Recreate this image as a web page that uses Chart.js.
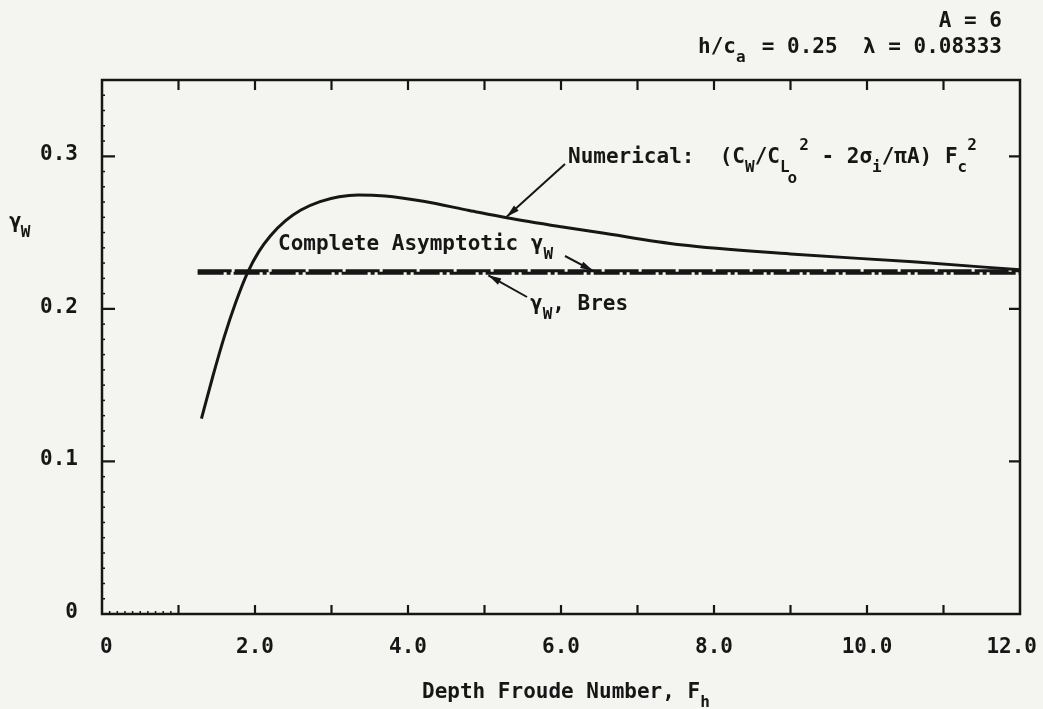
<!DOCTYPE html>
<html>
<head>
<meta charset="utf-8">
<script src="https://cdn.jsdelivr.net/npm/chart.js@4.4.1/dist/chart.umd.min.js"></script>
<style>
  html, body { margin: 0; padding: 0; background: #f4f4f1; }
  canvas { display: block; }
</style>
</head>
<body>
<canvas id="c" width="1043" height="709"></canvas>
<script>
// Depth Froude number samples and the numerically computed wave-drag factor
const FROUDE = [1.3, 1.45, 1.6, 1.75, 1.9, 2.05, 2.2, 2.4, 2.6, 2.85, 3.1, 3.35, 3.7, 4.2, 4.8, 5.29, 6.0, 6.5, 7.56, 9.0, 10.6, 12.0];
const GAMMA_NUMERICAL = [0.128, 0.156, 0.182, 0.2045, 0.2235, 0.2375, 0.2478, 0.2578, 0.2648, 0.2703, 0.2735, 0.2747, 0.2740, 0.2705, 0.2645, 0.2597, 0.2538, 0.2500, 0.2420, 0.2360, 0.2308, 0.2256];

// Asymptotic levels (constant over the plotted range)
const ASYMPTOTE_X = [1.25, 12.0];
const GAMMA_COMPLETE = [0.2249, 0.2249];
const GAMMA_BRES = [0.2233, 0.2233];

// Axis labelling
const X_TICKS = [0, 2, 4, 6, 8, 10, 12];
const X_TICK_LABELS = ['0', '2.0', '4.0', '6.0', '8.0', '10.0', '12.0'];
const Y_TICKS = [0, 0.1, 0.2, 0.3];
const Y_TICK_LABELS = ['0', '0.1', '0.2', '0.3'];

const INK = '#161616';
const FONT = 'bold 21px "DejaVu Sans Mono"';
const SUB = 'bold 16px "DejaVu Sans Mono"';

const toPts = (xs, ys) => xs.map((x, i) => ({ x, y: ys[i] }));

// Draws a run of text pieces; each piece may be a subscript, sub-subscript or superscript
function richText(ctx, x, y, parts) {
  let cx = x;
  for (const p of parts) {
    let dy = 0;
    ctx.font = FONT;
    if (p.k === 'sub') { ctx.font = SUB; dy = 9; }
    if (p.k === 'subsub') { ctx.font = SUB; dy = 20; }
    if (p.k === 'sup') { ctx.font = SUB; dy = -13; }
    cx += (p.dx || 0);
    ctx.fillText(p.t, cx, y + dy);
    if (!p.noAdvance) cx += ctx.measureText(p.t).width;
  }
  return cx;
}

function arrow(ctx, x1, y1, x2, y2) {
  ctx.beginPath();
  ctx.moveTo(x1, y1);
  ctx.lineTo(x2, y2);
  ctx.lineWidth = 2;
  ctx.stroke();
  const a = Math.atan2(y2 - y1, x2 - x1);
  const L = 13, W = 3.5;
  ctx.beginPath();
  ctx.moveTo(x2, y2);
  ctx.lineTo(x2 - L * Math.cos(a) + W * Math.sin(a), y2 - L * Math.sin(a) - W * Math.cos(a));
  ctx.lineTo(x2 - L * Math.cos(a) - W * Math.sin(a), y2 - L * Math.sin(a) + W * Math.cos(a));
  ctx.closePath();
  ctx.fill();
}

const paperPlugin = {
  id: 'paper',
  beforeDraw(chart) {
    const ctx = chart.ctx;
    ctx.save();
    ctx.fillStyle = '#f4f4f1';
    ctx.fillRect(0, 0, chart.width, chart.height);
    ctx.restore();
  },
  afterDraw(chart) {
    const ctx = chart.ctx;
    const { left, right, top, bottom } = chart.chartArea;
    const xs = chart.scales.x, ys = chart.scales.y;
    ctx.save();
    ctx.strokeStyle = INK;
    ctx.fillStyle = INK;
    ctx.lineCap = 'butt';

    // frame
    ctx.lineWidth = 2.5;
    ctx.strokeRect(left, top, right - left, bottom - top);

    // x ticks every 1.0 on bottom and top, inward
    ctx.lineWidth = 2.2;
    for (let v = 1; v < 12; v++) {
      const px = xs.getPixelForValue(v);
      ctx.beginPath();
      ctx.moveTo(px, bottom); ctx.lineTo(px, bottom - 9);
      ctx.moveTo(px, top); ctx.lineTo(px, top + 10);
      ctx.stroke();
    }
    // fine x ticks between 0 and 1
    ctx.lineWidth = 1.5;
    for (let i = 1; i < 10; i++) {
      const px = xs.getPixelForValue(i / 10);
      ctx.beginPath();
      ctx.moveTo(px, bottom); ctx.lineTo(px, bottom - 3);
      ctx.stroke();
    }
    // y ticks: minor every 0.01 on left, major every 0.1 on both sides
    for (let i = 1; i < 35; i++) {
      const py = ys.getPixelForValue(i / 100);
      const major = i % 10 === 0;
      ctx.lineWidth = major ? 2.2 : 1.5;
      ctx.beginPath();
      ctx.moveTo(left, py); ctx.lineTo(left + (major ? 13 : 3), py);
      if (major) { ctx.moveTo(right, py); ctx.lineTo(right - 11, py); }
      ctx.stroke();
    }

    // tick labels
    ctx.font = FONT;
    ctx.textBaseline = 'alphabetic';
    ctx.textAlign = 'center';
    X_TICKS.forEach((v, i) => {
      const w = ctx.measureText(X_TICK_LABELS[i]).width;
      let cx = xs.getPixelForValue(v);
      cx = Math.max(100 + w / 2, Math.min(1037 - w / 2, cx));
      ctx.fillText(X_TICK_LABELS[i], cx, bottom + 39);
    });
    ctx.textAlign = 'right';
    Y_TICKS.forEach((v, i) => {
      ctx.fillText(Y_TICK_LABELS[i], 78, ys.getPixelForValue(v) + 4);
    });

    ctx.textAlign = 'left';
    // axis titles
    richText(ctx, 422, 698, [{ t: 'Depth Froude Number, F' }, { t: 'h', k: 'sub' }]);
    richText(ctx, 9, 228, [{ t: 'γ' }, { t: 'W', k: 'sub', dx: -1 }]);

    // header
    ctx.textAlign = 'right';
    ctx.font = FONT;
    ctx.fillText('A = 6', 1002, 27);
    ctx.fillText('= 0.25  λ = 0.08333', 1002, 53);
    ctx.textAlign = 'left';
    richText(ctx, 698, 53, [{ t: 'h/c' }, { t: 'a', k: 'sub' }]);

    // curve annotations
    richText(ctx, 568, 163, [
      { t: 'Numerical:  (C' }, { t: 'W', k: 'sub' }, { t: '/C' },
      { t: 'L', k: 'sub' }, { t: 'o', k: 'subsub', dx: -2 }, { t: '2', k: 'sup', dx: 2 },
      { t: ' - 2σ' }, { t: 'i', k: 'sub' }, { t: '/πA) F' }, { t: 'c', k: 'sub' }, { t: '2', k: 'sup' }
    ]);
    richText(ctx, 278, 250, [{ t: 'Complete Asymptotic γ' }, { t: 'W', k: 'sub' }]);
    richText(ctx, 530, 310, [{ t: 'γ' }, { t: 'W', k: 'sub' }, { t: ', Bres' }]);

    arrow(ctx, 565, 164, xs.getPixelForValue(5.29), ys.getPixelForValue(0.2597) - 1);
    arrow(ctx, 565, 256, xs.getPixelForValue(6.42), ys.getPixelForValue(GAMMA_COMPLETE[0]));
    arrow(ctx, 527, 297, xs.getPixelForValue(5.05), ys.getPixelForValue(GAMMA_BRES[0]) + 2);

    ctx.restore();
  }
};

new Chart(document.getElementById('c'), {
  type: 'line',
  data: {
    datasets: [
      {
        label: 'Numerical',
        data: toPts(FROUDE, GAMMA_NUMERICAL),
        borderColor: INK,
        borderWidth: 3,
        pointRadius: 0,
        cubicInterpolationMode: 'monotone',
        fill: false
      },
      {
        label: 'Complete Asymptotic',
        data: toPts(ASYMPTOTE_X, GAMMA_COMPLETE),
        borderColor: INK,
        borderWidth: 3,
        borderDash: [34, 3],
        pointRadius: 0,
        fill: false
      },
      {
        label: 'Bres',
        data: toPts(ASYMPTOTE_X, GAMMA_BRES),
        borderColor: INK,
        borderWidth: 3,
        borderDash: [26, 3, 4, 3],
        pointRadius: 0,
        fill: false
      }
    ]
  },
  options: {
    responsive: false,
    animation: false,
    devicePixelRatio: 1,
    layout: { padding: { left: 0, right: 23, top: 80, bottom: 0 } },
    plugins: { legend: { display: false }, tooltip: { enabled: false } },
    scales: {
      x: {
        type: 'linear', min: 0, max: 12,
        grid: { display: false }, border: { display: false },
        ticks: { display: false },
        afterFit: s => { s.height = 95; }
      },
      y: {
        type: 'linear', min: 0, max: 0.35,
        grid: { display: false }, border: { display: false },
        ticks: { display: false },
        afterFit: s => { s.width = 102; }
      }
    }
  },
  plugins: [paperPlugin]
});
</script>
</body>
</html>
